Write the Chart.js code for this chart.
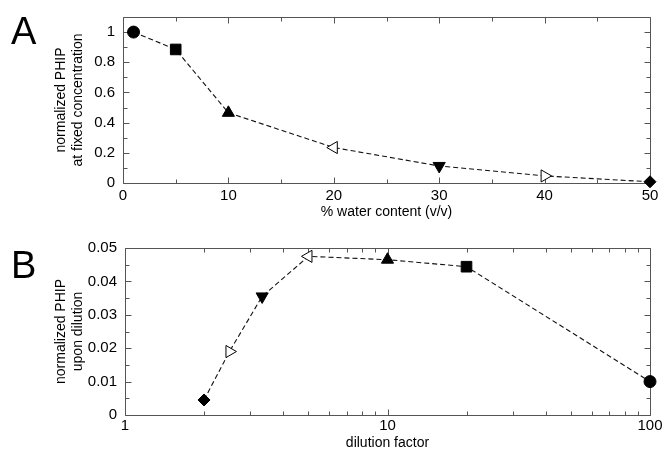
<!DOCTYPE html>
<html>
<head>
<meta charset="utf-8">
<script src="https://cdn.jsdelivr.net/npm/chart.js@4/dist/chart.umd.min.js"></script>
<style>
  body { margin: 0; background: #fff; }
  #page { position: relative; width: 666px; height: 450px; overflow: hidden; }
  .panel { position: absolute; left: 0; width: 666px; }
  #wrapA { top: 0; height: 225px; }
  #wrapB { top: 230px; height: 220px; }
  .letter { position: absolute; left: 11px; font-family: "Liberation Sans", Arial, sans-serif; font-size: 38px; line-height: 38px; color: #000; }
</style>
</head>
<body>
<div id="page">
  <div class="panel" id="wrapA"><canvas id="chartA"></canvas></div>
  <div class="panel" id="wrapB"><canvas id="chartB"></canvas></div>
  <div class="letter" style="top:12px">A</div>
  <div class="letter" style="top:246px">B</div>
</div>
<script>
  // panel A : PHIP at fixed concentration vs water content
  var waterContent = [1, 5, 10, 20, 30, 40, 50];
  var phipFixed = [1.0, 0.885, 0.465, 0.235, 0.113, 0.047, 0.008];
  var xTicksA = [0, 10, 20, 30, 40, 50];
  var xMinorA = [5, 15, 25, 35, 45];
  var yTicksA = [0, 0.2, 0.4, 0.6, 0.8, 1];
  var yMinorA = [0.1, 0.3, 0.5, 0.7, 0.9];

  // panel B : PHIP upon dilution vs dilution factor
  var dilution = [2, 2.5, 3.33, 5, 10, 20, 100];
  var phipDilution = [0.0045, 0.019, 0.0355, 0.0475, 0.0465, 0.0444, 0.010];
  var xTicksB = [1, 10, 100];
  var xMinorB = [2, 3, 4, 5, 6, 7, 8, 9, 20, 30, 40, 50, 60, 70, 80, 90];
  var yTicksB = [0, 0.01, 0.02, 0.03, 0.04, 0.05];
  var yMinorB = [0.005, 0.015, 0.025, 0.035, 0.045];

  // markers, same sample in both panels (B runs the other way round)
  var shapes = ['circle', 'rect', 'triangle', 'triangle', 'triangle', 'triangle', 'rectRot'];
  var turns = [0, 0, 0, 270, 180, 90, 0];
  var fills = ['#000', '#000', '#000', '#fff', '#000', '#fff', '#000'];
  var radii = [6, 7.5, 7, 7, 7, 7, 6];

  var FONT = '"Liberation Sans", Arial, sans-serif';

  // frame with inward ticks on all four sides
  var frameTicks = {
    id: 'frameTicks',
    beforeDatasetsDraw: function(chart, args, o) {
      var ctx = chart.ctx, a = chart.chartArea;
      var sx = chart.scales.x, sy = chart.scales.y;
      var L = Math.round(a.left) + 0.5, R = Math.round(a.right) + 0.5;
      var T = Math.round(a.top) + 0.5, B = Math.round(a.bottom) + 0.5;
      ctx.save();
      ctx.strokeStyle = '#555';
      ctx.lineWidth = 1;
      ctx.beginPath();
      ctx.rect(L, T, R - L, B - T);
      function xt(list, len) {
        list.forEach(function(v) {
          var p = Math.round(sx.getPixelForValue(v)) + 0.5;
          ctx.moveTo(p, T); ctx.lineTo(p, T + len);
          ctx.moveTo(p, B); ctx.lineTo(p, B - len);
        });
      }
      function yt(list, len) {
        list.forEach(function(v) {
          var p = Math.round(sy.getPixelForValue(v)) + 0.5;
          ctx.moveTo(L, p); ctx.lineTo(L + len, p);
          ctx.moveTo(R, p); ctx.lineTo(R - len, p);
        });
      }
      xt(o.xMajor, 6); xt(o.xMinor, 4);
      yt(o.yMajor, 6); yt(o.yMinor, 4);
      ctx.stroke();
      ctx.restore();
    }
  };

  function makePanel(id, xs, ys, cfg) {
    var pts = xs.map(function(x, i) { return {x: x, y: ys[i]}; });
    return new Chart(document.getElementById(id), {
      type: 'scatter',
      data: {
        datasets: [{
          data: pts,
          showLine: true,
          borderColor: '#111',
          borderWidth: 1.1,
          borderDash: [5, 3],
          pointStyle: cfg.shapes,
          pointRotation: cfg.turns,
          pointBackgroundColor: cfg.fills,
          pointBorderColor: '#000',
          pointBorderWidth: 1,
          pointRadius: cfg.radii,
          pointHoverRadius: cfg.radii,
          clip: false
        }]
      },
      options: {
        responsive: true,
        maintainAspectRatio: false,
        animation: false,
        events: [],
        layout: { padding: cfg.padding },
        plugins: {
          legend: { display: false },
          tooltip: { enabled: false },
          frameTicks: { xMajor: cfg.xTicks, xMinor: cfg.xMinor, yMajor: cfg.yTicks, yMinor: cfg.yMinor }
        },
        scales: {
          x: {
            type: cfg.xType,
            min: cfg.xMin, max: cfg.xMax,
            afterBuildTicks: function(s) { s.ticks = cfg.xTicks.map(function(v) { return {value: v}; }); },
            afterFit: function(s) { s.height = cfg.xAxisH; },
            grid: { display: false, drawTicks: false, tickLength: 0 },
            border: { display: false },
            ticks: { color: '#000', font: { family: FONT, size: 15 }, padding: cfg.xTickPad, maxRotation: 0, autoSkip: false,
                     callback: function(v) { return String(v); } },
            title: { display: true, text: cfg.xTitle, color: '#000', font: { family: FONT, size: 14 }, padding: { top: 0, bottom: cfg.xTitlePad } }
          },
          y: {
            min: cfg.yMin, max: cfg.yMax,
            afterBuildTicks: function(s) { s.ticks = cfg.yTicks.map(function(v) { return {value: v}; }); },
            afterFit: function(s) { s.width = cfg.yAxisW; },
            grid: { display: false, drawTicks: false, tickLength: 0 },
            border: { display: false },
            ticks: { color: '#000', font: { family: FONT, size: 15 }, padding: 8,
                     callback: function(v) { return String(v); } },
            title: { display: true, text: cfg.yTitle, color: '#000', font: { family: FONT, size: 14, lineHeight: 1.25 }, padding: { top: cfg.yTitlePad, bottom: 0 } }
          }
        }
      },
      plugins: [frameTicks]
    });
  }

  makePanel('chartA', waterContent, phipFixed, {
    shapes: shapes, turns: turns, fills: fills, radii: radii,
    xType: 'linear', xMin: 0, xMax: 50, yMin: 0, yMax: 1.1,
    xTicks: xTicksA, xMinor: xMinorA, yTicks: yTicksA, yMinor: yMinorA,
    xTitle: '% water content (v/v)',
    yTitle: ['normalized PHIP', 'at fixed concentration'],
    padding: { left: 0, top: 15, right: 16, bottom: 0 },
    xAxisH: 42, yAxisW: 123, xTickPad: 4, xTitlePad: 4, yTitlePad: 52
  });

  makePanel('chartB', dilution, phipDilution, {
    shapes: shapes.slice().reverse(), turns: turns.slice().reverse(),
    fills: fills.slice().reverse(), radii: radii.slice().reverse(),
    xType: 'logarithmic', xMin: 1, xMax: 100, yMin: 0, yMax: 0.05,
    xTicks: xTicksB, xMinor: xMinorB, yTicks: yTicksB, yMinor: yMinorB,
    xTitle: 'dilution factor',
    yTitle: ['normalized PHIP', 'upon dilution'],
    padding: { left: 0, top: 18, right: 16, bottom: 0 },
    xAxisH: 35, yAxisW: 125, xTickPad: 2, xTitlePad: -2, yTitlePad: 52
  });
</script>
</body>
</html>
